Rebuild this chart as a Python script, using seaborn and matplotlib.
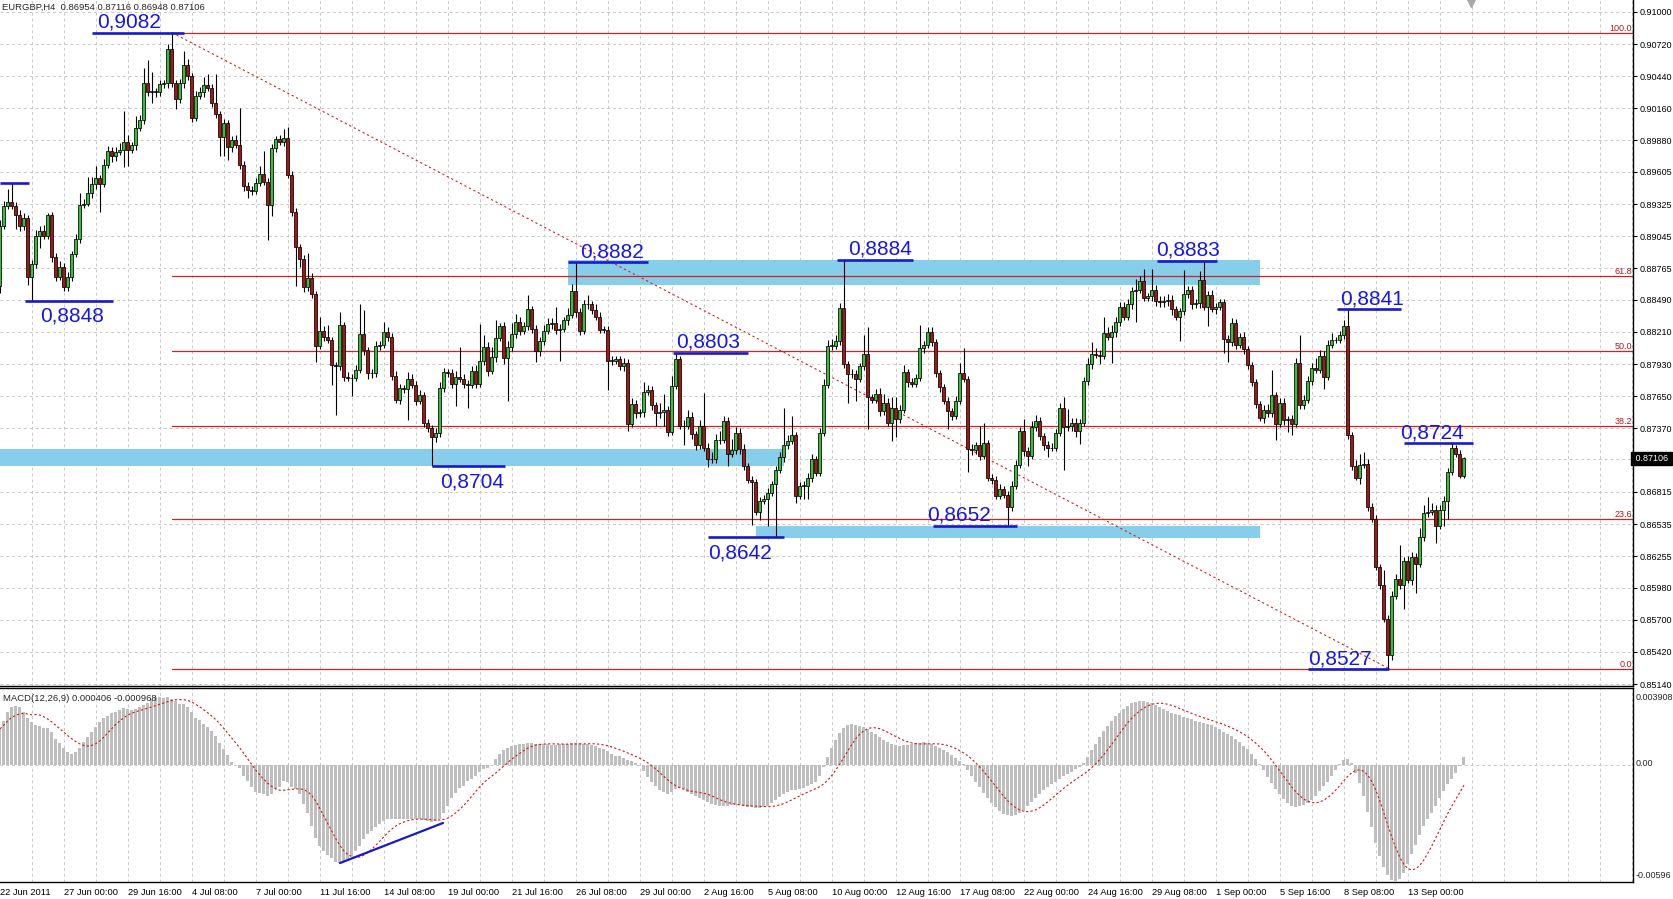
import numpy as np
import pandas as pd
import matplotlib
matplotlib.use("Agg")
import matplotlib.pyplot as plt
import seaborn as sns

# ==========================
# Data (prices in pips of 0.0001)
# ==========================

first_open = 8861

close_pips = [
    8913, 8931, 8934, 8931, 8923, 8913, 8920, 8869, 8880, 8905,
    8909, 8905, 8923, 8886, 8869, 8878, 8860, 8869, 8889, 8902,
    8932, 8933, 8942, 8950, 8955, 8950, 8967, 8979, 8974, 8978,
    8980, 8987, 8980, 8984, 8999, 9006, 9038, 9030, 9031, 9030,
    9037, 9038, 9068, 9038, 9024, 9038, 9054, 9044, 9008, 9027,
    9030, 9036, 9034, 9021, 9011, 8991, 9003, 8982, 8988, 8984,
    8967, 8948, 8945, 8944, 8951, 8959, 8952, 8932, 8981, 8989,
    8987, 8990, 8958, 8926, 8895, 8885, 8860, 8868, 8854, 8809,
    8822, 8817, 8814, 8792, 8791, 8827, 8782, 8781, 8781, 8788,
    8819, 8805, 8785, 8785, 8809, 8810, 8821, 8817, 8783, 8762,
    8772, 8771, 8780, 8775, 8761, 8766, 8742, 8737, 8729, 8733,
    8772, 8786, 8785, 8776, 8782, 8780, 8776, 8775, 8787, 8776,
    8796, 8808, 8787, 8799, 8816, 8826, 8798, 8808, 8819, 8830,
    8822, 8826, 8841, 8824, 8804, 8813, 8822, 8828, 8829, 8823,
    8824, 8831, 8836, 8857, 8838, 8822, 8845, 8845, 8840, 8834,
    8823, 8823, 8796, 8796, 8797, 8791, 8794, 8741, 8758, 8750,
    8751, 8769, 8770, 8757, 8750, 8751, 8753, 8734, 8774, 8797,
    8739, 8739, 8747, 8732, 8722, 8739, 8720, 8710, 8710, 8727,
    8727, 8743, 8715, 8718, 8733, 8719, 8704, 8692, 8690, 8664,
    8674, 8675, 8681, 8688, 8701, 8712, 8722, 8726, 8731, 8678,
    8687, 8687, 8694, 8710, 8698, 8733, 8775, 8809, 8809, 8813,
    8842, 8793, 8784, 8784, 8780, 8791, 8802, 8764, 8762, 8767,
    8752, 8759, 8742, 8755, 8745, 8753, 8786, 8777, 8776, 8781,
    8807, 8810, 8821, 8812, 8785, 8773, 8761, 8752, 8748, 8761,
    8785, 8780, 8719, 8718, 8722, 8713, 8724, 8694, 8692, 8678,
    8684, 8679, 8668, 8687, 8705, 8735, 8717, 8713, 8738, 8743,
    8730, 8722, 8720, 8720, 8733, 8755, 8738, 8739, 8742, 8735,
    8742, 8778, 8793, 8802, 8801, 8800, 8820, 8817, 8821, 8830,
    8843, 8834, 8845, 8857, 8858, 8865, 8851, 8852, 8858, 8848,
    8847, 8848, 8849, 8841, 8834, 8839, 8854, 8858, 8845, 8846,
    8866, 8843, 8853, 8841, 8843, 8847, 8815, 8812, 8829, 8810,
    8817, 8806, 8792, 8777, 8758, 8746, 8753, 8750, 8766, 8741,
    8759, 8744, 8745, 8741, 8794, 8757, 8762, 8778, 8790, 8788,
    8800, 8782, 8810, 8814, 8814, 8818, 8826, 8731, 8704, 8694,
    8705, 8706, 8668, 8658, 8616, 8600, 8571, 8539, 8591, 8606,
    8600, 8621, 8605, 8625, 8619, 8642, 8663, 8664, 8666, 8652,
    8666, 8674, 8699, 8720, 8715, 8695, 8711,
]

wick_hi = [
    6, 4, 12, 17, 3, 4, 5, 3, 4, 5,
    4, 5, 2, 3, 4, 5, 3, 4, 3, 4,
    10, 4, 14, 6, 11, 3, 5, 4, 3, 4,
    6, 27, 6, 3, 10, 4, 13, 20, 17, 3,
    4, 3, 4, 14, 3, 4, 12, 5, 3, 4,
    5, 7, 10, 3, 25, 3, 4, 3, 4, 5,
    32, 3, 4, 3, 4, 7, 20, 3, 4, 3,
    4, 8, 10, 3, 3, 3, 3, 22, 4, 3,
    12, 4, 10, 3, 3, 11, 3, 4, 3, 4,
    26, 21, 3, 4, 4, 3, 9, 4, 3, 4,
    4, 3, 6, 4, 3, 4, 3, 3, 3, 4,
    5, 4, 3, 4, 5, 26, 4, 3, 4, 5,
    32, 10, 4, 9, 15, 3, 4, 5, 10, 7,
    4, 4, 12, 3, 3, 4, 5, 5, 4, 14,
    4, 3, 6, 6, 25, 4, 4, 8, 3, 5,
    4, 3, 3, 4, 3, 3, 4, 3, 5, 4,
    3, 8, 5, 4, 3, 8, 14, 3, 9, 6,
    3, 5, 6, 4, 3, 5, 29, 4, 6, 5,
    8, 5, 4, 10, 5, 4, 4, 3, 3, 3,
    3, 4, 4, 3, 3, 4, 33, 5, 17, 3,
    3, 4, 4, 5, 3, 4, 5, 5, 6, 5,
    4, 42, 3, 5, 4, 3, 16, 23, 3, 4,
    5, 8, 4, 9, 9, 4, 6, 3, 4, 3,
    20, 3, 4, 4, 3, 3, 3, 3, 3, 4,
    9, 22, 3, 4, 3, 17, 18, 3, 3, 3,
    4, 3, 3, 4, 4, 3, 10, 4, 5, 6,
    4, 3, 4, 4, 3, 4, 9, 15, 4, 4,
    3, 4, 5, 10, 5, 4, 14, 5, 6, 4,
    4, 4, 5, 3, 9, 5, 11, 3, 18, 4,
    4, 4, 5, 4, 3, 3, 21, 3, 3, 4,
    8, 17, 4, 5, 3, 3, 3, 3, 4, 3,
    3, 4, 3, 3, 3, 3, 4, 5, 22, 3,
    4, 4, 3, 4, 4, 24, 4, 5, 4, 8,
    5, 4, 4, 6, 3, 4, 5, 15, 3, 5,
    10, 10, 4, 4, 3, 3, 13, 3, 4, 4,
    29, 4, 5, 4, 3, 8, 7, 13, 6, 4,
    4, 4, 3, 4, 2, 3, 1,
]

wick_lo = [
    6, 2, 3, 3, 12, 4, 3, 7, 21, 3,
    11, 3, 3, 4, 4, 3, 3, 3, 4, 3,
    3, 3, 2, 4, 4, 24, 3, 3, 5, 4,
    3, 15, 14, 3, 4, 3, 4, 3, 9, 4,
    3, 3, 4, 3, 9, 3, 4, 3, 4, 3,
    3, 4, 3, 4, 3, 17, 17, 11, 4, 3,
    4, 4, 7, 4, 3, 3, 3, 31, 10, 3,
    3, 4, 3, 4, 34, 7, 4, 3, 3, 14,
    3, 4, 3, 17, 42, 3, 4, 3, 16, 3,
    3, 4, 5, 4, 3, 4, 3, 4, 4, 3,
    4, 3, 27, 3, 4, 3, 4, 3, 25, 4,
    4, 3, 3, 4, 20, 3, 4, 20, 3, 4,
    3, 4, 4, 3, 4, 3, 5, 37, 4, 3,
    4, 3, 3, 4, 9, 4, 3, 3, 4, 4,
    27, 3, 4, 3, 4, 4, 3, 4, 3, 3,
    3, 3, 26, 4, 3, 3, 4, 6, 3, 4,
    3, 4, 3, 4, 11, 4, 12, 4, 3, 3,
    3, 17, 3, 4, 4, 3, 3, 7, 3, 3,
    4, 3, 11, 3, 3, 4, 3, 3, 37, 3,
    7, 3, 23, 3, 46, 3, 4, 3, 3, 6,
    3, 12, 12, 4, 3, 3, 3, 3, 4, 3,
    3, 3, 25, 3, 19, 3, 3, 28, 3, 3,
    4, 3, 3, 16, 16, 3, 3, 4, 3, 3,
    3, 4, 3, 3, 3, 4, 3, 16, 4, 3,
    3, 3, 20, 4, 3, 4, 3, 3, 4, 3,
    3, 3, 15, 3, 3, 3, 4, 9, 3, 3,
    3, 4, 8, 3, 3, 3, 37, 3, 4, 6,
    12, 3, 3, 4, 3, 7, 3, 3, 23, 4,
    4, 3, 3, 4, 27, 3, 3, 3, 4, 4,
    4, 4, 4, 5, 3, 21, 3, 3, 4, 3,
    4, 3, 17, 3, 4, 3, 12, 17, 3, 4,
    3, 4, 3, 3, 3, 3, 4, 3, 3, 14,
    3, 4, 10, 10, 3, 3, 3, 3, 3, 3,
    3, 11, 3, 3, 3, 3, 3, 3, 3, 2,
    6, 3, 3, 3, 3, 3, 3, 12, 4, 3,
    3, 21, 3, 5, 26, 3, 3, 3, 3, 15,
    3, 14, 16, 3, 3, 1, 1,
]

# MACD main line, units of 0.00001
macd_vals = [
    186, 225, 275, 296, 301, 296, 275, 243, 221, 204,
    200, 189, 189, 168, 136, 115, 88, 65, 58, 65,
    88, 118, 142, 172, 195, 221, 243, 253, 266, 275,
    283, 292, 289, 283, 287, 296, 307, 319, 337, 349,
    349, 346, 349, 337, 328, 314, 314, 296, 275, 243,
    230, 213, 195, 177, 150, 115, 83, 53, 17, 0,
    -13, -59, -80, -112, -137, -142, -148, -160, -151, -125,
    -112, -80, -89, -112, -125, -148, -201, -249, -311, -373,
    -414, -444, -462, -479, -497, -502, -497, -485, -467, -444,
    -417, -382, -355, -337, -320, -302, -290, -279, -275, -275,
    -279, -279, -279, -275, -279, -279, -284, -290, -293, -290,
    -275, -249, -213, -169, -142, -119, -107, -84, -71, -54,
    -36, -23, -13, 0, 30, 55, 75, 90, 100, 105,
    108, 110, 112, 112, 110, 108, 108, 106, 105, 104,
    106, 108, 110, 112, 115, 112, 110, 108, 104, 98,
    90, 80, 70, 58, 48, 45, 38, 25, 20, 10,
    -5, -30, -60, -85, -110, -130, -140, -148, -140, -125,
    -118, -125, -140, -150, -160, -170, -180, -190, -200, -205,
    -210, -212, -210, -205, -205, -208, -212, -215, -218, -220,
    -222, -218, -210, -195, -180, -165, -150, -140, -130, -130,
    -125, -118, -110, -100, -85, -55, -10, 40, 90, 130,
    165, 190, 205, 210, 208, 200, 195, 185, 170, 158,
    145, 130, 118, 110, 105, 100, 102, 105, 108, 112,
    115, 118, 115, 108, 100, 90, 78, 65, 50, 35,
    20, 5, -25, -55, -85, -115, -145, -170, -195, -215,
    -235, -250, -258, -260, -255, -245, -230, -210, -190, -170,
    -150, -130, -115, -100, -85, -70, -58, -45, -35, -20,
    -8, 10, 40, 75, 110, 145, 175, 200, 225, 250,
    270, 290, 305, 318, 325, 330, 330, 325, 318, 310,
    300, 290, 280, 270, 262, 255, 248, 242, 235, 228,
    222, 215, 210, 205, 195, 185, 172, 160, 148, 135,
    120, 100, 80, 55, 30, 5, -25, -60, -95, -125,
    -150, -175, -195, -210, -215, -212, -205, -195, -180, -160,
    -135, -110, -85, -55, -25, 5, 25, 30, 10, -40,
    -90, -160, -240, -320, -400, -470, -525, -565, -590, -596,
    -585, -555, -510, -460, -410, -360, -315, -280, -245, -210,
    -170, -135, -100, -70, -40, -5, 41,
]

price_ticks = [0.91000, 0.90720, 0.90440, 0.90160, 0.89880, 0.89605, 0.89325,
               0.89045, 0.88765, 0.88490, 0.88210, 0.87930, 0.87650, 0.87370,
               0.86815, 0.86535, 0.86255, 0.85980, 0.85700, 0.85420, 0.85140]
last_price = 0.87106

date_labels = ["22 Jun 2011", "27 Jun 00:00", "29 Jun 16:00", "4 Jul 08:00",
               "7 Jul 00:00", "11 Jul 16:00", "14 Jul 08:00", "19 Jul 00:00",
               "21 Jul 16:00", "26 Jul 08:00", "29 Jul 00:00", "2 Aug 16:00",
               "5 Aug 08:00", "10 Aug 00:00", "12 Aug 16:00", "17 Aug 08:00",
               "22 Aug 00:00", "24 Aug 16:00", "29 Aug 08:00", "1 Sep 00:00",
               "5 Sep 16:00", "8 Sep 08:00", "13 Sep 00:00"]

fib_high, fib_low = 0.9082, 0.8527
fib_pcts = [0.0, 23.6, 38.2, 50.0, 61.8, 100.0]
fib_start, fib_end = 43, 347.5

# level marks: label, price, line from/to (bar index), text side
mark_labels = ["0,9082", "", "0,8848", "0,8882", "0,8803", "0,8704", "0,8642",
               "0,8884", "0,8652", "0,8883", "0,8841", "0,8724", "0,8527"]
mark_prices = [0.9082, 0.8951, 0.8848, 0.8882, 0.8803, 0.8704, 0.8642,
               0.8884, 0.8652, 0.8883, 0.8841, 0.8724, 0.8527]
mark_x0 = [23, 0, 6.25, 142, 168.25, 108, 177, 209.25, 233.25, 289.25, 334.25, 351, 327]
mark_x1 = [46, 7.25, 28.25, 162, 187, 126.25, 196, 228.25, 254.25, 304.25, 350.25, 368.25, 347.25]
mark_tx = [24.25, 0, 10, 145, 169, 110, 177, 212, 231.75, 289, 335, 350, 327]
mark_side = ["above", "above", "below", "above", "above", "below", "below",
             "above", "above", "above", "above", "above", "above"]

# zones: from/to bar, price bottom/top
zone_x0 = [0, 142, 189]
zone_x1 = [196, 315, 315]
zone_lo = [0.87044, 0.88619, 0.86413]
zone_hi = [0.87190, 0.88837, 0.86520]

# ==========================
# Build frames
# ==========================

closes = np.array(close_pips) / 1e4
opens = np.r_[first_open, close_pips[:-1]] / 1e4
df = pd.DataFrame({
    "open": opens,
    "close": closes,
    "high": np.maximum(opens, closes) + np.array(wick_hi) / 1e4,
    "low": np.minimum(opens, closes) - np.array(wick_lo) / 1e4,
})
df["bar"] = np.arange(len(df))
df["up"] = df["close"] >= df["open"]

macd = pd.DataFrame({"bar": np.arange(len(macd_vals)),
                     "macd": np.array(macd_vals) / 1e5})
macd["signal"] = macd["macd"].rolling(9, min_periods=1).mean()

# ==========================
# Figure
# ==========================

sns.set_style("white")
plt.rcParams["font.family"] = ["Liberation Sans", "DejaVu Sans"]

W, H = 1674, 899
fig = plt.figure(figsize=(W / 100, H / 100), dpi=100)
ax = fig.add_axes([0, (H - 686) / H, 1633 / W, 686 / H])
ax2 = fig.add_axes([0, (H - 882) / H, 1633 / W, 194 / H])

xmax = 1633 / 4
grid_kw = dict(color="#C8C8C8", lw=0.7, ls=(0, (3, 3)), zorder=0)

for a in (ax, ax2):
    a.set_xlim(0, xmax)
    for k in range(1, 52):
        a.axvline(k * 8, **grid_kw)
    a.spines["left"].set_visible(False)
    for s in ("right", "top", "bottom"):
        a.spines[s].set_color("black")
        a.spines[s].set_linewidth(1.0)

ax.spines["top"].set_visible(False)

# price panel
ax.set_ylim(0.851228, 0.911046)
for p in price_ticks + [last_price]:
    ax.axhline(p, **grid_kw)

for x0, x1, lo, hi in zip(zone_x0, zone_x1, zone_lo, zone_hi):
    ax.fill_between([x0, x1], lo, hi, color="#87CEEB", lw=0, zorder=1)

fib_prices = [fib_low + (fib_high - fib_low) * p / 100 for p in fib_pcts]
for pct, fp in zip(fib_pcts, fib_prices):
    ax.plot([fib_start, xmax], [fp, fp], color="#D42020", lw=0.9, zorder=2)
    ax.annotate(f"{pct:.1f}", (xmax - 0.2, fp), xytext=(0, 2),
                textcoords="offset pixels", ha="right", va="baseline",
                fontsize=6.5, color="#B01818")
ax.plot([fib_start, fib_end], [fib_high, fib_low], color="#D42020", lw=0.8,
        ls=(0, (2, 2.5)), zorder=2)

# candles
ax.vlines(df["bar"], df["low"], df["high"], color="black", lw=0.8, zorder=3)
body = (df["close"] - df["open"]).abs().clip(lower=0.00002)
colors = np.where(df["up"], "#3CBC3C", "#A21616")
ax.bar(df["bar"], body, bottom=df[["open", "close"]].min(axis=1), width=0.75,
       color=colors, edgecolor="black", linewidth=0.55, zorder=4)

# blue level marks
for lab, pr, x0, x1, tx, side in zip(mark_labels, mark_prices, mark_x0, mark_x1,
                                     mark_tx, mark_side):
    ax.plot([x0, x1], [pr, pr], color="#1818CC", lw=1.9, zorder=5,
            solid_capstyle="butt")
    if lab:
        dy = 5 if side == "above" else -21
        ax.annotate(lab, (tx, pr), xytext=(0, dy), textcoords="offset pixels",
                    ha="left", va="baseline", fontsize=15, color="#1818D8",
                    zorder=6)

ax.set_xticks([])
ax.yaxis.tick_right()
ax.set_yticks(price_ticks)
ax.set_yticklabels([f"{p:.5f}" for p in price_ticks])
ax.tick_params(axis="y", direction="out", length=3, width=0.8, pad=2,
               labelsize=6.5, colors="black")
ax.text(1.0, last_price, " 0.87106 ", transform=ax.get_yaxis_transform(),
        ha="left", va="center", fontsize=6.5, color="white",
        bbox=dict(facecolor="black", edgecolor="black", pad=1.2),
        clip_on=False)

ax.text(2 / 1633, 1 - 10 / 686,
        "EURGBP,H4  0.86954 0.87116 0.86948 0.87106",
        transform=ax.transAxes, fontsize=6.8, va="baseline", ha="left")
ax.plot([1471 / 4], [0.9108], marker="v", ms=6, color="#A8A8A8", clip_on=False,
        zorder=6)

# macd panel
ax2.set_ylim(-0.006015, 0.00396)
ax2.axhline(0, **grid_kw)
ax2.bar(macd["bar"], macd["macd"], width=0.75, color="#BEBEBE", linewidth=0,
        zorder=2)
sns.lineplot(data=macd, x="bar", y="signal", ax=ax2, color="#D01818",
             lw=0.8, zorder=3)
ax2.lines[-1].set_linestyle((0, (2, 2)))
ax2.plot([85, 110.75], [-0.00504, -0.00298], color="#1818CC", lw=1.6, zorder=4)
ax2.set_xlabel("")
ax2.set_ylabel("")
ax2.set_yticks([])

ticks = np.arange(0, 409, 8)
ax2.set_xticks(ticks)
ax2.set_xticklabels([date_labels[t // 16] if t % 16 == 0 and t // 16 < len(date_labels)
                     else "" for t in ticks], ha="left")
ax2.tick_params(axis="x", direction="out", length=3, width=0.8, pad=1,
                labelsize=6.7, colors="black")

for txt, yf in [("0.003908", (882 - 697) / 194), ("0.00", (882 - 764) / 194),
                ("-0.00596", (882 - 876) / 194)]:
    ax2.text(1.0 + 3 / 1633, yf, txt, transform=ax2.transAxes, ha="left",
             va="center", fontsize=6.5, clip_on=False)

ax2.text(3 / 1633, (882 - 701) / 194, "MACD(12,26,9) 0.000406 -0.000968",
         transform=ax2.transAxes, fontsize=6.8, va="baseline", ha="left")

fig.savefig("out.png", dpi=100)
